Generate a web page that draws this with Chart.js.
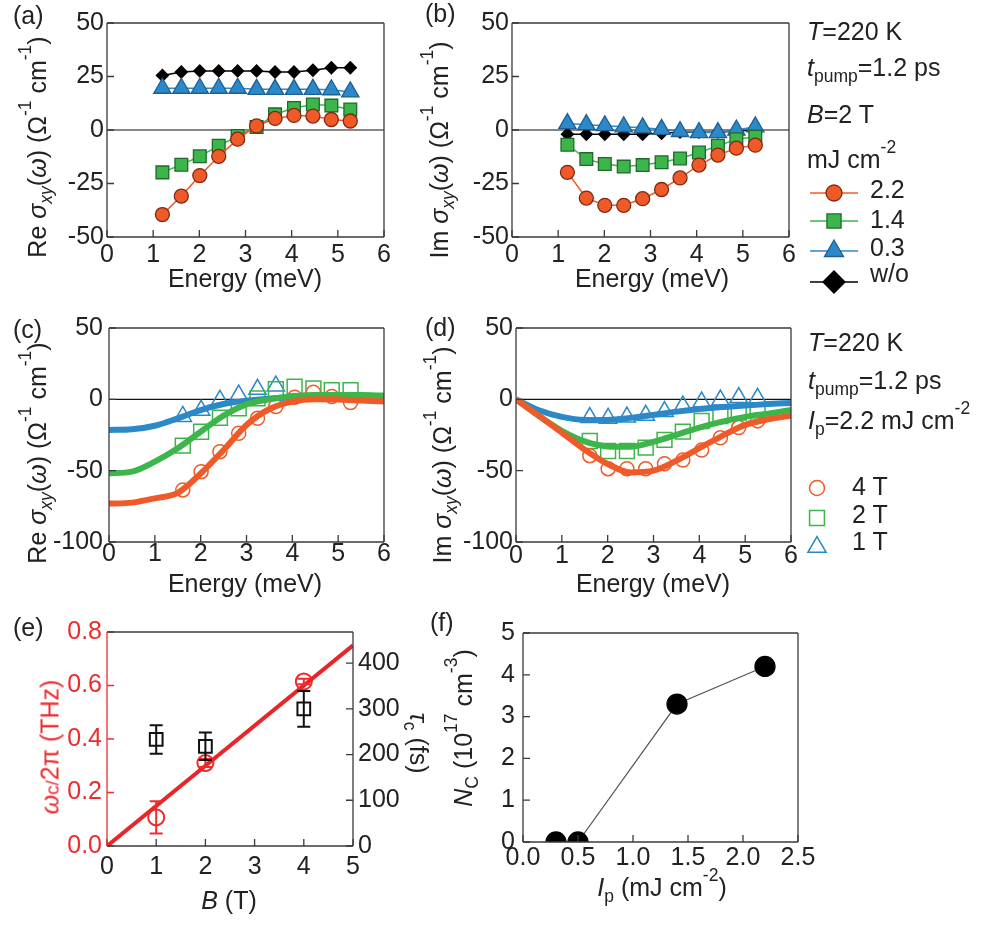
<!DOCTYPE html>
<html>
<head>
<meta charset="utf-8">
<script src="https://cdn.jsdelivr.net/npm/chart.js"></script>
<style>
  body { margin: 0; width: 984px; height: 929px; position: relative; overflow: hidden; background: #fff;
         font-family: "Liberation Sans", Arial, sans-serif; color: #222; }
  canvas { position: absolute; }
  .t, .xt, .yt, .yr { position: absolute; font-size: 25px; line-height: 1; white-space: nowrap; }
  .t  { transform: translateY(-50%); }
  .xt { transform: translate(-50%, -50%); }
  .yt { transform: translate(-50%, -50%) rotate(-90deg); }
  .yr { transform: translate(-50%, -50%) rotate(90deg); }
  sup { font-size: .7em; vertical-align: baseline; position: relative; top: -.85em; }
  sub { font-size: .7em; vertical-align: baseline; position: relative; top: .35em; }
  .red { color: #ec2b2e; }
</style>
</head>
<body>
<canvas id="pa"></canvas>
<canvas id="pb"></canvas>
<canvas id="pc"></canvas>
<canvas id="pd"></canvas>
<canvas id="pe"></canvas>
<canvas id="pf"></canvas>

<!-- panel letters -->
<div class="t" style="left:13px;top:15px">(a)</div>
<div class="t" style="left:425px;top:13px">(b)</div>
<div class="t" style="left:13px;top:329px">(c)</div>
<div class="t" style="left:425px;top:327px">(d)</div>
<div class="t" style="left:13px;top:627px">(e)</div>
<div class="t" style="left:430px;top:622px">(f)</div>

<!-- axis titles -->
<div class="yt" style="left:37px;top:147px">Re <i>σ</i><sub><i>xy</i></sub>(<i>ω</i>) (Ω<sup>-1</sup> cm<sup>-1</sup>)</div>
<div class="xt" style="left:245px;top:278px">Energy (meV)</div>
<div class="yt" style="left:439px;top:150px">Im <i>σ</i><sub><i>xy</i></sub>(<i>ω</i>) (Ω<sup>-1</sup> cm<sup>-1</sup>)</div>
<div class="xt" style="left:652px;top:278px">Energy (meV)</div>
<div class="yt" style="left:37px;top:453px">Re <i>σ</i><sub><i>xy</i></sub>(<i>ω</i>) (Ω<sup>-1</sup> cm<sup>-1</sup>)</div>
<div class="xt" style="left:245px;top:583px">Energy (meV)</div>
<div class="yt" style="left:442px;top:455px">Im <i>σ</i><sub><i>xy</i></sub>(<i>ω</i>) (Ω<sup>-1</sup> cm<sup>-1</sup>)</div>
<div class="xt" style="left:653px;top:583px">Energy (meV)</div>
<div class="yt red" style="left:50px;top:747px"><i>ω</i><span style="font-size:.75em">c/</span>2π (THz)</div>
<div class="yr" style="left:418px;top:743px"><i>τ</i><sub>c</sub> (fs)</div>
<div class="xt" style="left:229px;top:900px"><i>B</i> (T)</div>
<div class="yt" style="left:463px;top:728px"><i>N</i><sub>C</sub> (10<sup>17</sup> cm<sup>-3</sup>)</div>
<div class="xt" style="left:662px;top:887px"><i>I</i><sub>p</sub> (mJ cm<sup>-2</sup>)</div>

<!-- notes beside (b) -->
<div class="t" style="left:807px;top:31px"><i>T</i>=220 K</div>
<div class="t" style="left:807px;top:67px"><i>t</i><sub>pump</sub>=1.2 ps</div>
<div class="t" style="left:807px;top:114px"><i>B</i>=2 T</div>
<div class="t" style="left:807px;top:159px">mJ cm<sup>-2</sup></div>
<div class="t" style="left:870px;top:189px">2.2</div>
<div class="t" style="left:870px;top:219px">1.4</div>
<div class="t" style="left:870px;top:247px">0.3</div>
<div class="t" style="left:870px;top:273px">w/o</div>

<!-- notes beside (d) -->
<div class="t" style="left:808px;top:342px"><i>T</i>=220 K</div>
<div class="t" style="left:808px;top:380px"><i>t</i><sub>pump</sub>=1.2 ps</div>
<div class="t" style="left:808px;top:420px"><i>I</i><sub>p</sub>=2.2 mJ cm<sup>-2</sup></div>
<div class="t" style="left:852px;top:486px">4 T</div>
<div class="t" style="left:852px;top:514px">2 T</div>
<div class="t" style="left:852px;top:541px">1 T</div>

<script>
// ---- data ----
// (a)/(b): measured spectra, pump fluence in mJ cm^-2
const energyAB = [1.2, 1.61, 2.01, 2.42, 2.83, 3.24, 3.64, 4.05, 4.46, 4.86, 5.27];
const reF22 = [-39.5, -30.9, -21.3, -12.3, -4.3, 1.9, 5.4, 6.8, 6.5, 4.9, 4.2];
const reF14 = [-19.8, -16.2, -12.3, -7.4, -2.8, 1.4, 7.3, 10.3, 11.9, 11.4, 9.6];
const reF03 = [19.5, 19.5, 19.5, 19.5, 19.5, 19, 19, 19, 19, 18.8, 17.8];
const reNoPump = [25.5, 27.1, 27.6, 27.6, 27.6, 27.6, 27.1, 27.1, 27.9, 29.1, 29.1];
const imF22 = [-19.8, -31.8, -35.2, -35.2, -32.1, -27.8, -22.4, -16.4, -11.7, -8.5, -7.1];
const imF14 = [-6.9, -13.6, -15.9, -17.1, -16.4, -15.1, -13.3, -10.5, -7.4, -4.3, -3.1];
const imF03 = [3, 2.5, 2, 1.5, 1, 0.3, -0.7, -1.2, -1.2, 0, 1.5];
const imNoPump = [-2, -2, -2, -2, -2, -1.5, -1, -1, -1, -0.5, 0];

// (c)/(d): field dependence, points and model curves
const energyCD = [1.61, 2.01, 2.42, 2.83, 3.24, 3.64, 4.05, 4.46, 4.86, 5.27];
const energy1T = [1.61, 2.01, 2.42, 2.83, 3.24, 3.64];
const re4T = [-63.5, -50.7, -36.7, -23.8, -13.3, -5, 1.5, 5, 2, -2.3];
const re2T = [-32.5, -22.7, -12.9, -6.3, 0.7, 7.2, 8.9, 7.7, 6.5, 6.5];
const re1T = [-12, -7.7, -0.7, 3, 7, 9.3];
const im4T = [-39.5, -48.6, -48.6, -48.6, -45.1, -42.6, -35.6, -26.9, -19.8, -15.1];
const im2T = [-29.2, -36.2, -36.2, -33.9, -28.4, -22.6, -15.2, -11.7, -9.3, -7.7];
const im1T = [-12.8, -13.3, -12.4, -11.2, -8.6, -4.7, -1.9, -0.5, 1.2, 0.7];
const energyFit = [0, 0.5, 1, 1.5, 2, 2.5, 3, 3.5, 4, 4.5, 5, 5.5, 6];
const reFit4T = [-73.1, -72.4, -69.4, -65.5, -52, -35.5, -18, -6.8, -1.6, 0, -0.2, -0.9, -1.6];
const reFit2T = [-51.9, -50.7, -43.7, -34.3, -22.7, -11.4, -3.5, 0, 2.1, 3, 3, 3, 2.6];
const reFit1T = [-21.5, -21, -18.5, -13.3, -7.5, -3.3, -0.9, 0.5, 1.2, 1.4, 1.2, 0.9, 0.5];
const imFit4T = [0, -11.6, -23.3, -35.3, -45.3, -51.2, -50, -43, -34.2, -25.6, -17.9, -14, -11.5];
const imFit2T = [0, -11.6, -22.1, -29.5, -33, -33.3, -29.8, -24.9, -19.8, -15.6, -12.3, -10, -7.5];
const imFit1T = [0, -7.7, -12.3, -14.4, -14.4, -13, -10.9, -8.6, -6.7, -5.3, -4.4, -3.3, -2.5];

// (e): cyclotron frequency and scattering time vs field
const fieldB = [1, 2, 4];
const wc = [0.107, 0.31, 0.615];
const wcErr = [0.06, 0.015, 0.01];
const tauC = [233, 218, 300];
const tauErr = [31, 30, 39];
const fitB = [0, 5];
const fitWc = [0, 0.75];

// (f): carrier density vs pump fluence
const fluence = [0.3, 0.5, 1.4, 2.2];
const density = [0, 0, 3.3, 4.2];

// ---- helpers ----
const FONT = '"Liberation Sans", Arial, sans-serif';
Chart.defaults.font.family = FONT;
Chart.defaults.font.size = 25;
Chart.defaults.color = '#222';

const RED = '#f05a28', GREEN = '#3cb54a', BLUE = '#2b88c9';
const RED_E = '#ec2b2e';
const pts = (xs, ys) => xs.map((x, i) => ({ x, y: ys[i] }));

// frame, inward ticks and zero line
const framePlugin = {
  id: 'frame',
  beforeDatasetsDraw(chart, args, o) {
    if (!o.zero) return;
    const { ctx, chartArea: a } = chart;
    const y0 = chart.scales.y.getPixelForValue(0);
    ctx.save();
    ctx.strokeStyle = '#111';
    ctx.lineWidth = 1.2;
    ctx.beginPath(); ctx.moveTo(a.left, y0); ctx.lineTo(a.right, y0); ctx.stroke();
    ctx.restore();
  },
  afterDatasetsDraw(chart, args, o) {
    if (!o.edge) return;
    const { ctx, chartArea: a, scales } = chart;
    const L = 7;
    ctx.save();
    ctx.lineWidth = 1.3;
    const mark = (scale, color, fn) => {
      ctx.strokeStyle = color;
      ctx.beginPath();
      scale.ticks.forEach(t => fn(scale.getPixelForValue(t.value)));
      ctx.stroke();
    };
    mark(scales.x, o.edge, p => { ctx.moveTo(p, a.bottom); ctx.lineTo(p, a.bottom - L); });
    mark(scales.y, o.left || o.edge, p => { ctx.moveTo(a.left, p); ctx.lineTo(a.left + L, p); });
    if (scales.y2) mark(scales.y2, o.edge, p => { ctx.moveTo(a.right, p); ctx.lineTo(a.right - L, p); });
    const side = (c, x1, y1, x2, y2) => {
      ctx.strokeStyle = c;
      ctx.beginPath(); ctx.moveTo(x1, y1); ctx.lineTo(x2, y2); ctx.stroke();
    };
    side(o.edge, a.left, a.top, a.right, a.top);
    side(o.edge, a.right, a.top, a.right, a.bottom);
    side(o.edge, a.left, a.bottom, a.right, a.bottom);
    side(o.left || o.edge, a.left, a.top, a.left, a.bottom);
    ctx.restore();
  }
};

// vertical error bars from dataset.errors
const errorBars = {
  id: 'errorBars',
  afterDatasetsDraw(chart) {
    const { ctx } = chart;
    chart.data.datasets.forEach(ds => {
      if (!ds.errors) return;
      const xs = chart.scales.x, ys = chart.scales[ds.yAxisID || 'y'];
      ctx.save();
      ctx.strokeStyle = ds.pointBorderColor;
      ctx.lineWidth = 2;
      ds.data.forEach((p, j) => {
        const px = xs.getPixelForValue(p.x);
        const top = ys.getPixelForValue(p.y + ds.errors[j]);
        const bot = ys.getPixelForValue(p.y - ds.errors[j]);
        ctx.beginPath();
        ctx.moveTo(px, top); ctx.lineTo(px, bot);
        ctx.moveTo(px - 6.5, top); ctx.lineTo(px + 6.5, top);
        ctx.moveTo(px - 6.5, bot); ctx.lineTo(px + 6.5, bot);
        ctx.stroke();
      });
      ctx.restore();
    });
  }
};

// key symbols drawn with each dataset's own style
const keyMarks = {
  id: 'keyMarks',
  afterDraw(chart, args, o) {
    if (!o.items) return;
    const { ctx } = chart;
    o.items.forEach(it => {
      const ds = chart.data.datasets[it.ds];
      const x = it.x - o.ox, y = it.y - o.oy;
      ctx.save();
      if (it.line) {
        ctx.strokeStyle = ds.borderColor;
        ctx.lineWidth = 1.5;
        ctx.beginPath(); ctx.moveTo(x - 24, y); ctx.lineTo(x + 24, y); ctx.stroke();
      }
      ctx.fillStyle = ds.pointBackgroundColor;
      ctx.strokeStyle = ds.pointBorderColor;
      ctx.lineWidth = ds.pointBorderWidth;
      Chart.helpers.drawPoint(ctx, { pointStyle: ds.pointStyle, radius: it.r, rotation: 0, borderWidth: ds.pointBorderWidth }, x, y);
      ctx.restore();
    });
  }
};

Chart.register(framePlugin, errorBars, keyMarks);

function marks(xs, ys, style, r, fill, edge, line, extra) {
  return Object.assign({
    data: pts(xs, ys), pointStyle: style, pointRadius: r, pointHoverRadius: r,
    pointBackgroundColor: fill, pointBorderColor: edge, pointBorderWidth: 1.3,
    showLine: !!line, borderColor: line || edge, borderWidth: 1.5
  }, extra || {});
}

function curve(xs, ys, color, width, order) {
  return {
    data: pts(xs, ys), showLine: true, pointRadius: 0, borderColor: color, borderWidth: width,
    cubicInterpolationMode: 'monotone', order: order
  };
}

// linear axis with a fixed box size so the plot frames line up across panels
function axis(min, max, step, pad, size, opt) {
  opt = opt || {};
  const s = {
    type: 'linear', min, max, bounds: 'data',
    grid: { display: false, drawTicks: false },
    border: { display: false },
    ticks: { stepSize: step, padding: pad, autoSkip: false, maxRotation: 0, includeBounds: false,
             color: opt.color || '#222', callback: opt.fmt || (v => String(v)) },
    afterBuildTicks: sc => {
      sc.ticks = sc.ticks.filter(t => Math.abs(t.value / step - Math.round(t.value / step)) < 1e-6);
    },
    afterFit: sc => { if (sc.isHorizontal()) sc.height = size; else sc.width = size; }
  };
  if (opt.position) s.position = opt.position;
  return s;
}

function panel(id, box, top, padRight, datasets, scales, opts) {
  const cv = document.getElementById(id);
  cv.width = box.w; cv.height = box.h;
  cv.style.left = box.x + 'px'; cv.style.top = box.y + 'px';
  return new Chart(cv, {
    type: 'scatter',
    data: { datasets },
    options: {
      responsive: false, animation: false, devicePixelRatio: 1,
      layout: { padding: { left: 0, top: top - box.y, right: padRight, bottom: 0 } },
      scales,
      plugins: Object.assign({ legend: { display: false }, tooltip: { enabled: false } }, opts)
    }
  });
}

// ---- (a) ----
panel('pa', { x: 0, y: 0, w: 400, h: 300 }, 23, 16, [
  marks(energyAB, reF22, 'circle', 7, RED, '#7c2a12', RED),
  marks(energyAB, reF14, 'rect', 9, GREEN, '#1f6a2a', GREEN),
  marks(energyAB, reF03, 'triangle', 10, BLUE, '#1f5f94', BLUE),
  marks(energyAB, reNoPump, 'rectRot', 6, '#000', '#000', '#000')
], {
  x: axis(0, 6, 1, 3, 63),
  y: axis(-50, 50, 25, 3, 107)
}, { frame: { edge: '#3a3a3a', zero: true } });

// ---- (b) ----
panel('pb', { x: 400, y: 0, w: 584, h: 300 }, 23, 195, [
  marks(energyAB, imF22, 'circle', 7, RED, '#7c2a12', RED),
  marks(energyAB, imF14, 'rect', 9, GREEN, '#1f6a2a', GREEN),
  marks(energyAB, imF03, 'triangle', 10, BLUE, '#1f5f94', BLUE),
  marks(energyAB, imNoPump, 'rectRot', 6, '#000', '#000', '#000')
], {
  x: axis(0, 6, 1, 3, 63),
  y: axis(-50, 50, 25, 3, 112)
}, {
  frame: { edge: '#3a3a3a', zero: true },
  keyMarks: { ox: 400, oy: 0, items: [
    { ds: 0, x: 834, y: 193, r: 8, line: true },
    { ds: 1, x: 834, y: 221, r: 10, line: true },
    { ds: 2, x: 834, y: 251, r: 11, line: true },
    { ds: 3, x: 834, y: 282, r: 11, line: true }
  ] }
});

// ---- (c) ----
const openMarks = (xs, ys, style, r, color) =>
  marks(xs, ys, style, r, 'rgba(0,0,0,0)', color, null, { order: 1, pointBorderWidth: 1.5 });

panel('pc', { x: 0, y: 305, w: 400, h: 300 }, 328, 16, [
  curve(energyFit, reFit4T, RED, 6, 0),
  curve(energyFit, reFit2T, GREEN, 6, 0),
  curve(energyFit, reFit1T, BLUE, 6, 0),
  openMarks(energyCD, re4T, 'circle', 7, RED),
  openMarks(energyCD, re2T, 'rect', 10.5, GREEN),
  openMarks(energy1T, re1T, 'triangle', 10, BLUE)
], {
  x: axis(0, 6, 1, -3, 63),
  y: axis(-100, 50, 50, 6, 109)
}, { frame: { edge: '#3a3a3a', zero: true } });

// ---- (d) ----
panel('pd', { x: 400, y: 305, w: 584, h: 300 }, 328, 193, [
  curve(energyFit, imFit4T, RED, 6, 0),
  curve(energyFit, imFit2T, GREEN, 6, 0),
  curve(energyFit, imFit1T, BLUE, 6, 0),
  openMarks(energyCD, im4T, 'circle', 7, RED),
  openMarks(energyCD, im2T, 'rect', 10.5, GREEN),
  openMarks(energyCD, im1T, 'triangle', 10, BLUE)
], {
  x: axis(0, 6, 1, -1, 63),
  y: axis(-100, 50, 50, 3, 116)
}, {
  frame: { edge: '#3a3a3a', zero: true },
  keyMarks: { ox: 400, oy: 305, items: [
    { ds: 3, x: 817, y: 488, r: 7.5 },
    { ds: 4, x: 817, y: 518, r: 10.5 },
    { ds: 5, x: 817, y: 547, r: 10.5 }
  ] }
});

// ---- (e) ----
panel('pe', { x: 0, y: 610, w: 420, h: 300 }, 632, 0, [
  { data: pts(fitB, fitWc), showLine: true, pointRadius: 0, borderColor: '#e8262a', borderWidth: 4, order: 0, yAxisID: 'y' },
  marks(fieldB, wc, 'circle', 8, 'rgba(0,0,0,0)', RED_E, null, { yAxisID: 'y', errors: wcErr, pointBorderWidth: 2, order: 1 }),
  marks(fieldB, tauC, 'rect', 9, 'rgba(0,0,0,0)', '#111', null, { yAxisID: 'y2', errors: tauErr, pointBorderWidth: 2, order: 1 })
], {
  x: axis(0, 5, 1, 6, 64),
  y: axis(0, 0.8, 0.2, 5, 107, { position: 'left', color: RED_E, fmt: v => v.toFixed(1) }),
  y2: axis(0, 468, 100, 5, 67, { position: 'right' })
}, { frame: { edge: '#3a3a3a', left: RED_E } });

// ---- (f) ----
panel('pf', { x: 420, y: 610, w: 420, h: 300 }, 629, 42, [
  marks(fluence, density, 'circle', 10, '#000', '#000', '#555', { borderWidth: 1.2 })
], {
  x: axis(0, 2.5, 0.5, 1, 68, { fmt: v => v.toFixed(1) }),
  y: axis(0, 5, 1, 8, 103)
}, { frame: { edge: '#3a3a3a' } });
</script>
</body>
</html>
